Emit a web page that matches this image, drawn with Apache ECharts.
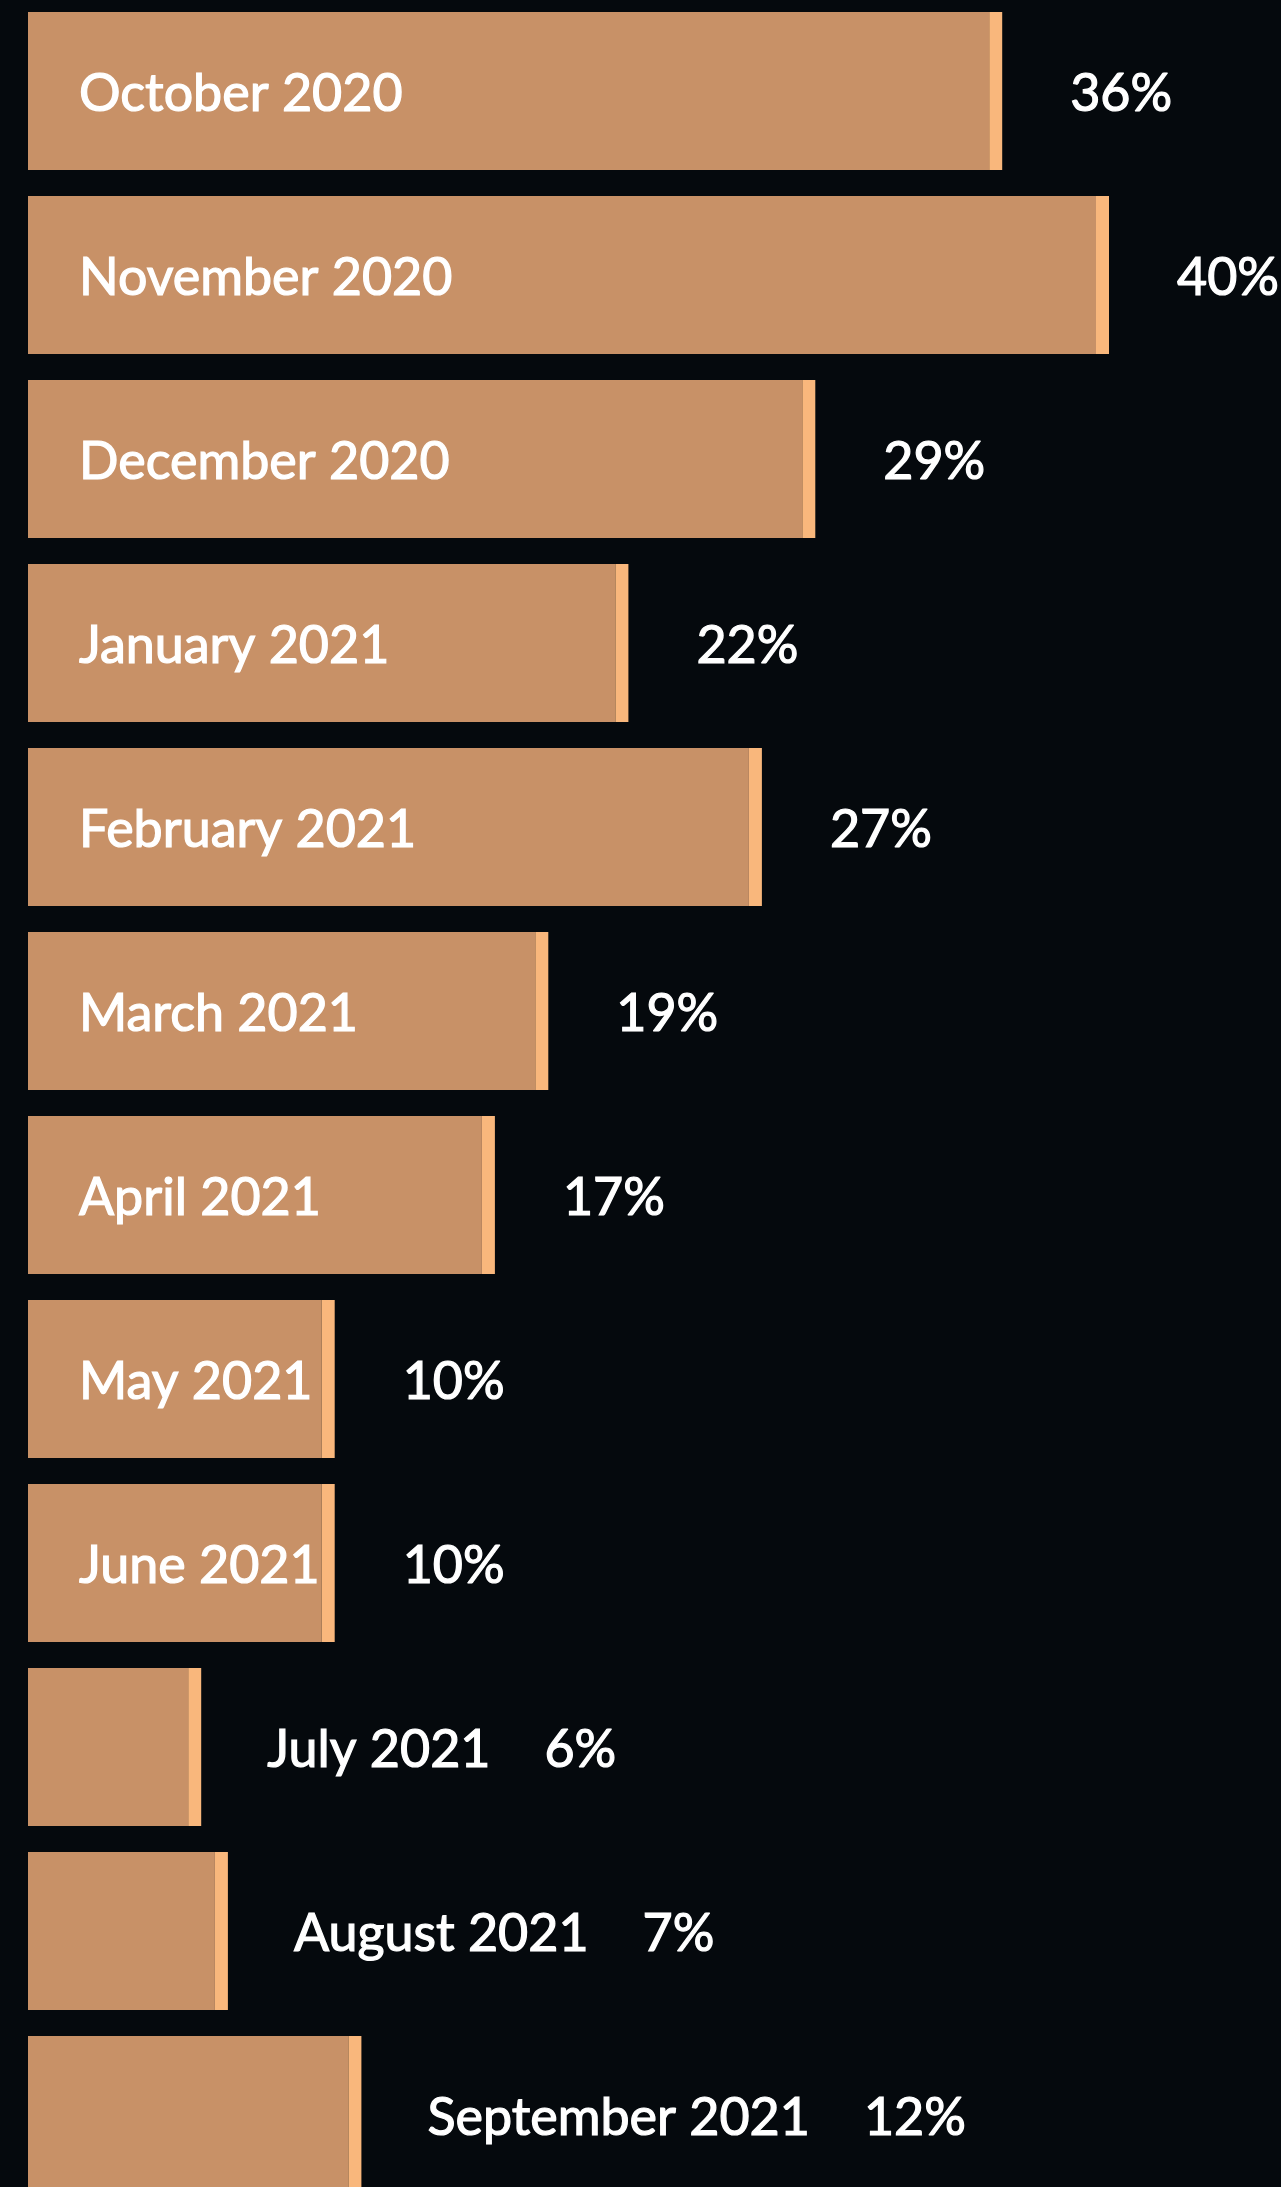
<!DOCTYPE html>
<html>
<head>
<meta charset="utf-8">
<title>Monthly share</title>
<script src="https://cdn.jsdelivr.net/npm/echarts@6.0.0/dist/echarts.min.js"></script>
<style>
  html, body { margin: 0; padding: 0; background: #05090d; }
  #chart { width: 1281px; height: 2187px; }
</style>
</head>
<body>
<div id="chart"></div>
<script>
// months, top to bottom
const months = [
  'October 2020', 'November 2020', 'December 2020', 'January 2021',
  'February 2021', 'March 2021', 'April 2021', 'May 2021',
  'June 2021', 'July 2021', 'August 2021', 'September 2021'
]
// bar lengths as drawn (percent)
const shares = [36, 40, 29, 22, 27, 19, 17, 11, 11, 6, 7, 12]
// value labels as printed
const shareLabels = ['36%', '40%', '29%', '22%', '27%', '19%', '17%', '10%', '10%', '6%', '7%', '12%']

const BAR_COLOR = '#c89167'
const EDGE_COLOR = '#f9b77c'
const TEXT_COLOR = '#ffffff'
const FONT_FAMILY = 'Lato'
const FONT_WEIGHT = 'normal'
const FONT_SIZE = 52
const BAR_HEIGHT = 158
const EDGE_WIDTH = 13
const INSIDE_PAD = 51
const VALUE_GAP = 68
const OUTSIDE_GAP = 66
const LABEL_GAP = 54
const TEXT_SHIFT = 3

// measure label widths to decide inside / outside
const fontSpec = `${FONT_WEIGHT} ${FONT_SIZE}px ${FONT_FAMILY}`
const measureCtx = document.createElement('canvas').getContext('2d')
measureCtx.font = fontSpec
const textWidth = (s) => measureCtx.measureText(s).width

const textStyle = (text, x, y) => ({
  x: x,
  y: y + TEXT_SHIFT,
  text: text,
  fill: TEXT_COLOR,
  // thin stroke to get a medium weight
  stroke: TEXT_COLOR,
  lineWidth: 1.2,
  font: fontSpec,
  textAlign: 'left',
  textVerticalAlign: 'middle'
})

const renderItem = (params, api) => {
  const idx = api.value(1)
  const start = api.coord([0, idx])
  const end = api.coord([api.value(0), idx])
  const top = end[1] - BAR_HEIGHT / 2
  const bodyWidth = end[0] - start[0]
  const barEnd = end[0] + EDGE_WIDTH
  const label = months[idx]
  const fits = start[0] + INSIDE_PAD + textWidth(label) < barEnd

  const children = [
    { type: 'rect', shape: { x: start[0], y: top, width: bodyWidth, height: BAR_HEIGHT }, style: { fill: BAR_COLOR } },
    { type: 'rect', shape: { x: end[0], y: top, width: EDGE_WIDTH, height: BAR_HEIGHT }, style: { fill: EDGE_COLOR } }
  ]

  if (fits) {
    children.push({ type: 'text', style: textStyle(label, start[0] + INSIDE_PAD, end[1]) })
    children.push({ type: 'text', style: textStyle(shareLabels[idx], barEnd + VALUE_GAP, end[1]) })
  } else {
    const catX = barEnd + OUTSIDE_GAP
    children.push({ type: 'text', style: textStyle(label, catX, end[1]) })
    children.push({ type: 'text', style: textStyle(shareLabels[idx], catX + textWidth(label) + LABEL_GAP, end[1]) })
  }

  return { type: 'group', children: children }
}

const chart = echarts.init(document.getElementById('chart'), null, { renderer: 'canvas' })

chart.setOption({
  backgroundColor: '#05090d',
  animation: false,
  grid: {
    left: 28,
    width: 1068,
    top: -1,
    bottom: -20,
    outerBoundsMode: 'none',
    containLabel: false
  },
  xAxis: {
    type: 'value',
    min: 0,
    max: 40,
    show: false
  },
  yAxis: {
    type: 'category',
    data: months,
    inverse: true,
    show: false
  },
  series: [
    {
      type: 'custom',
      renderItem: renderItem,
      clip: false,
      encode: { x: 0, y: 1 },
      data: shares.map((v, i) => [v, i])
    }
  ]
})

window.addEventListener('resize', () => chart.resize())
</script>
</body>
</html>
